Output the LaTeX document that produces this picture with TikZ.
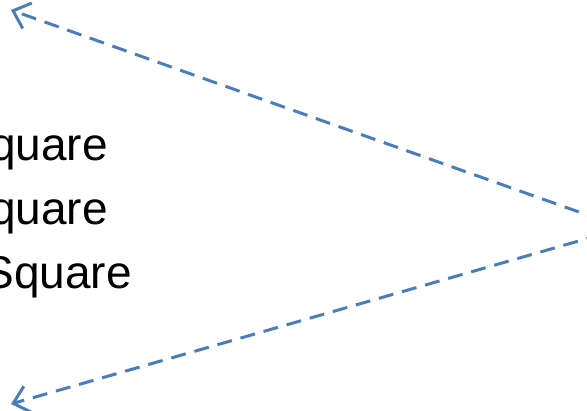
\documentclass[tikz,border=0pt]{standalone}
\usepackage{fontspec}
\setmainfont{Liberation Sans}
\usetikzlibrary{arrows.meta}
\definecolor{linkblue}{RGB}{74,126,187}
\begin{document}
\begin{tikzpicture}[x=1pt,y=-1pt,
  link/.style={draw=linkblue, line width=3pt, dash pattern=on 15pt off 9pt,
    -{Straight Barb[length=15pt,width=27pt,line width=3pt]}},
  label/.style={inner sep=0pt, anchor=base east, font=\fontsize{46}{55}\selectfont}]
\path[use as bounding box, clip] (0,0) rectangle (587,411);
\coordinate (src) at (624,228);
\coordinate (t1) at (11,10);
\coordinate (t2) at (11,404);
\draw[link] (src) -- (t1);
\draw[link] (src) -- (t2);
\node[label] (l1) at (108,161) {quare};
\node[label] (l2) at (108,225) {quare};
\node[label] (l3) at (132,289) {Square};
\end{tikzpicture}
\end{document}
